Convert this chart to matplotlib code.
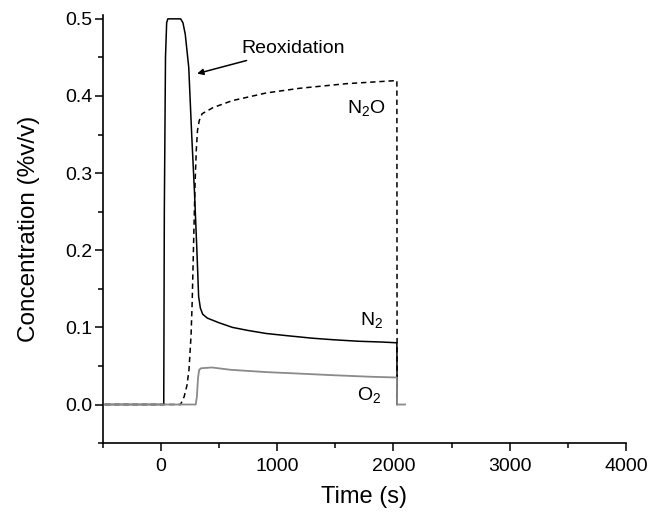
import matplotlib

matplotlib.use("Agg")

import matplotlib.pyplot as plt
from matplotlib.ticker import MultipleLocator, FormatStrFormatter

plt.rcParams["font.family"] = ["Liberation Sans", "DejaVu Sans"]
plt.rcParams["mathtext.fontset"] = "custom"
plt.rcParams["mathtext.rm"] = "Liberation Sans"

# N2 (solid black)
t_n2 = [-480, 25, 30, 40, 50, 60, 170, 190, 210, 240, 265, 290, 310, 325, 340,
        360, 400, 500, 615, 750, 909, 1100, 1300, 1480, 1700, 1900, 2030, 2032]
c_n2 = [0, 0, 0.25, 0.45, 0.495, 0.5, 0.5, 0.495, 0.48, 0.437, 0.351, 0.273, 0.2,
        0.14, 0.125, 0.117, 0.112, 0.106, 0.100, 0.096, 0.092, 0.089, 0.086,
        0.084, 0.082, 0.081, 0.080, 0.0]

# N2O (dashed black)
t_n2o = [-480, 170, 200, 225, 242, 260, 270, 285, 295, 305, 315, 330, 355, 450,
         615, 909, 1195, 1600, 2030, 2032]
c_n2o = [0, 0, 0.01, 0.025, 0.045, 0.09, 0.135, 0.23, 0.29, 0.33, 0.355, 0.368,
         0.377, 0.385, 0.394, 0.404, 0.41, 0.416, 0.42, 0.0]

# O2 (grey)
t_o2 = [-480, 300, 310, 320, 330, 346, 440, 600, 909, 1200, 1480, 1800, 2030,
        2032, 2100]
c_o2 = [0, 0, 0.01, 0.035, 0.045, 0.047, 0.048, 0.045, 0.042, 0.040, 0.038,
        0.036, 0.035, 0.0, 0.0]

fig = plt.figure(figsize=(6.5, 5.17), dpi=100)
ax = fig.add_axes([0.158, 0.143, 0.805, 0.828])

ax.plot(t_n2o, c_n2o, color="black", lw=1.1, linestyle=(0, (3.5, 2.5)))
ax.plot(t_n2, c_n2, color="black", lw=1.1)
ax.plot(t_o2, c_o2, color="#8a8a8a", lw=1.3)

ax.text(1602, 0.377, r"N$_\mathregular{2}$O", fontsize=14, ha="left", va="baseline")
ax.text(1714, 0.102, r"N$_\mathregular{2}$", fontsize=14, ha="left", va="baseline")
ax.text(1688, 0.005, r"O$_\mathregular{2}$", fontsize=14, ha="left", va="baseline")

ax.annotate("Reoxidation", xy=(312, 0.429), xytext=(693, 0.462),
            fontsize=14, ha="left", va="center",
            arrowprops=dict(arrowstyle="-|>", color="black", lw=1.1,
                            mutation_scale=9, shrinkA=3, shrinkB=0))

ax.set_xlim(-500, 4000)
ax.set_ylim(-0.05, 0.505)
ax.xaxis.set_major_locator(MultipleLocator(1000))
ax.xaxis.set_minor_locator(MultipleLocator(500))
ax.yaxis.set_major_locator(MultipleLocator(0.1))
ax.yaxis.set_minor_locator(MultipleLocator(0.05))
ax.yaxis.set_major_formatter(FormatStrFormatter("%.1f"))

for side in ["top", "right"]:
    ax.spines[side].set_visible(False)
for side in ["left", "bottom"]:
    ax.spines[side].set_linewidth(1.2)

ax.tick_params(which="major", direction="out", length=5.8, width=1.1, labelsize=14)
ax.tick_params(which="minor", direction="out", length=3.6, width=1.1)
ax.tick_params(axis="y", which="major", pad=1.5)
ax.tick_params(axis="x", which="major", pad=5)

ax.set_xlabel("Time (s)", fontsize=17, labelpad=8)
ax.set_ylabel("Concentration (%v/v)", fontsize=17.5, labelpad=18)

plt.savefig("out.png", dpi=100)
